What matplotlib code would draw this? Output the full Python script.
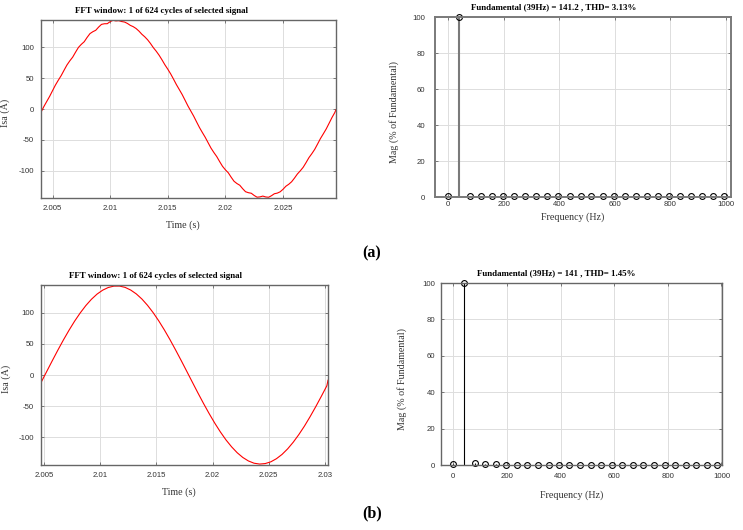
#!/usr/bin/env python3
# -*- coding: utf-8 -*-

import matplotlib
matplotlib.use("Agg")
import matplotlib.pyplot as plt

plt.rcParams["axes.unicode_minus"] = False

# ---- (a) time window (noisy) ----
t_a = [2.0040, 2.00425, 2.0045, 2.00475, 2.0050, 2.00525, 2.0055, 2.00575, 2.0060, 2.00625,
       2.0065, 2.00675, 2.0070, 2.00725, 2.0075, 2.00775, 2.0080, 2.00825, 2.0085, 2.00875,
       2.0090, 2.00925, 2.0095, 2.00975, 2.0100, 2.01025, 2.0105, 2.01075, 2.0110, 2.01125,
       2.0115, 2.01175, 2.0120, 2.01225, 2.0125, 2.01275, 2.0130, 2.01325, 2.0135, 2.01375,
       2.0140, 2.01425, 2.0145, 2.01475, 2.0150, 2.01525, 2.0155, 2.01575, 2.0160, 2.01625,
       2.0165, 2.01675, 2.0170, 2.01725, 2.0175, 2.01775, 2.0180, 2.01825, 2.0185, 2.01875,
       2.0190, 2.01925, 2.0195, 2.01975, 2.0200, 2.02025, 2.0205, 2.02075, 2.0210, 2.02125,
       2.0215, 2.02175, 2.0220, 2.02225, 2.0225, 2.02275, 2.0230, 2.02325, 2.0235, 2.02375,
       2.0240, 2.02425, 2.0245, 2.02475, 2.0250, 2.02525, 2.0255, 2.02575, 2.0260, 2.02625,
       2.0265, 2.02675, 2.0270, 2.02725, 2.0275, 2.02775, 2.0280, 2.02825, 2.0285, 2.02875,
       2.0290, 2.02925, 2.0295, 2.0296]
i_a = [-5.3, 4.0, 12.3, 20.5, 29.7, 38.8, 46.7, 54.2, 62.9, 71.4,
       78.2, 84.2, 92.3, 100.0, 105.0, 109.2, 116.2, 122.4, 125.5, 127.8,
       133.0, 137.4, 138.4, 138.5, 141.8, 144.0, 143.0, 143.4, 142.0, 141.2,
       138.9, 135.8, 133.7, 130.7, 126.5, 121.4, 117.3, 112.4, 106.4, 99.6,
       93.8, 87.3, 79.8, 71.8, 64.7, 57.1, 48.5, 39.6, 31.6, 23.5,
       14.3, 5.0, -3.3, -11.6, -20.9, -30.0, -38.1, -45.9, -54.7, -63.4,
       -70.6, -77.2, -85.3, -93.0, -98.7, -103.5, -110.7, -117.3, -121.0, -123.8,
       -129.4, -134.3, -135.9, -136.8, -140.4, -143.2, -142.7, -141.4, -142.8, -143.3,
       -140.8, -137.6, -136.6, -134.5, -130.4, -125.4, -122.2, -118.1, -112.1, -105.5,
       -100.4, -94.7, -87.1, -79.0, -72.6, -65.6, -56.9, -48.0, -40.3, -32.4,
       -23.2, -13.9, -5.6, -1.0]

# ---- (b) time window (smooth) ----
t_b = [2.0047, 2.0052, 2.0057, 2.0062, 2.0067, 2.0072, 2.0077, 2.0082, 2.0087, 2.0092,
       2.0097, 2.0102, 2.0107, 2.0112, 2.0117, 2.0122, 2.0127, 2.0132, 2.0137, 2.0142,
       2.0147, 2.0152, 2.0157, 2.0162, 2.0167, 2.0172, 2.0177, 2.0182, 2.0187, 2.0192,
       2.0197, 2.0202, 2.0207, 2.0212, 2.0217, 2.0222, 2.0227, 2.0232, 2.0237, 2.0242,
       2.0247, 2.0252, 2.0257, 2.0262, 2.0267, 2.0272, 2.0277, 2.0282, 2.0287, 2.0292,
       2.0297, 2.0302, 2.0303]
i_b = [-12.2, 5.3, 22.7, 39.8, 56.3, 71.9, 86.5, 99.7, 111.5, 121.6,
       129.9, 136.2, 140.5, 142.7, 142.8, 140.7, 136.4, 130.2, 122.0, 111.9,
       100.2, 87.0, 72.5, 56.9, 40.4, 23.4, 6.0, -11.5, -28.9, -45.8,
       -62.0, -77.3, -91.4, -104.2, -115.3, -124.8, -132.4, -138.0, -141.6, -143.0,
       -142.2, -139.4, -134.4, -127.5, -118.6, -107.9, -95.6, -82.0, -67.0, -51.1,
       -34.4, -17.2, -8.4]

# ---- harmonic spectra (% of fundamental) ----
freq_a = [0, 40, 79, 119, 159, 199, 238, 278, 318, 357, 397, 437, 477, 516, 556,
          596, 635, 675, 715, 755, 794, 834, 874, 913, 953, 993]
mag_a = [0.3, 100.0, 0.6, 0.6, 0.6, 0.6, 0.6, 0.6, 0.6, 0.6, 0.6, 0.6, 0.6, 0.6, 0.6,
         0.6, 0.6, 0.6, 0.6, 0.6, 0.6, 0.6, 0.6, 0.6, 0.6, 0.6]
freq_b = [0, 39, 79, 118, 158, 197, 236, 276, 315, 355, 394, 433, 473, 512, 552,
          591, 630, 670, 709, 749, 788, 827, 867, 906, 946, 985]
mag_b = [0.3, 100.0, 0.9, 0.6, 0.6, 0.15, 0.15, 0.15, 0.15, 0.15, 0.15, 0.15, 0.15, 0.15, 0.15,
         0.15, 0.15, 0.15, 0.15, 0.15, 0.15, 0.15, 0.15, 0.15, 0.15, 0.15]

time_ticks_a = [2.005, 2.01, 2.015, 2.02, 2.025]
time_ticks_b = [2.005, 2.01, 2.015, 2.02, 2.025, 2.03]
freq_ticks = [0, 200, 400, 600, 800, 1000]

W, H = 743, 530
TICK_FONT = dict(family="Liberation Sans", size=5.6)
LABEL_FONT = dict(family="Liberation Serif", size=7.2, color="#333333")
TITLE_FONT = dict(family="Liberation Serif", size=6.4, weight="bold")


def px_axes(fig, left, top, right, bottom):
    return fig.add_axes([left / W, 1 - bottom / H, (right - left) / W, (bottom - top) / H])


def style(ax, spine_col="#666666", spine_w=1.0, xpad=4, ypad=4):
    for s in ax.spines.values():
        s.set_color(spine_col)
        s.set_linewidth(spine_w)
    ax.grid(True, color="#dddddd", linewidth=0.7)
    ax.set_axisbelow(True)
    ax.tick_params(direction="in", top=True, right=True, length=2.5, width=0.6,
                   color="#666666", labelcolor="#333333", labelsize=TICK_FONT["size"])
    ax.tick_params(axis="x", pad=xpad)
    ax.tick_params(axis="y", pad=ypad)
    for lab in ax.get_xticklabels() + ax.get_yticklabels():
        lab.set_family(TICK_FONT["family"])


def wave_panel(ax, t, i, ticks, xlim, title, tx, ty, ylab_x, xlab_y):
    ax.plot(t, i, color="red", linewidth=0.8)
    ax.set_xlim(*xlim)
    ax.set_ylim(-144.5, 144.5)
    ax.set_xticks(ticks)
    ax.set_xticklabels([f"{v:g}" for v in ticks])
    ax.set_yticks([-100, -50, 0, 50, 100])
    style(ax, xpad=5, ypad=5)
    ax.set_xlabel("Time (s)", **LABEL_FONT)
    ax.set_ylabel("Isa (A)", **LABEL_FONT)
    ax.yaxis.set_label_coords(ylab_x, 0.48)
    ax.xaxis.set_label_coords(0.48, xlab_y)
    ax.text(tx, ty, title, transform=ax.transAxes, ha="center", va="center", **TITLE_FONT)


def fft_panel(ax, f, m, xlim, title, tx, ty, stem_col, stem_w, spine_col, spine_w,
              ylab_x, xlab_y, xpad, ypad):
    markers, stems, base = ax.stem(f, m, basefmt=" ")
    stems.set_color(stem_col)
    stems.set_linewidth(stem_w)
    markers.set_markerfacecolor("none")
    markers.set_markeredgecolor("black")
    markers.set_markersize(4.2)
    markers.set_markeredgewidth(0.8)
    markers.set_clip_on(False)
    ax.set_xlim(*xlim)
    ax.set_ylim(0, 100)
    ax.set_xticks(freq_ticks)
    ax.set_yticks([0, 20, 40, 60, 80, 100])
    style(ax, spine_col=spine_col, spine_w=spine_w, xpad=xpad, ypad=ypad)
    ax.set_xlabel("Frequency (Hz)", **LABEL_FONT)
    ax.set_ylabel("Mag (% of Fundamental)", **LABEL_FONT)
    ax.yaxis.set_label_coords(ylab_x, 0.47)
    ax.xaxis.set_label_coords(0.465, xlab_y)
    ax.text(tx, ty, title, transform=ax.transAxes, ha="center", va="center", **TITLE_FONT)


fig = plt.figure(figsize=(W / 100, H / 100), dpi=100)

ax1 = px_axes(fig, 41, 20, 336, 198)
wave_panel(ax1, t_a, i_a, time_ticks_a, (2.0040, 2.0296),
           "FFT window: 1 of 624 cycles of selected signal", 0.407, 1.052, -0.105, -0.125)

ax2 = px_axes(fig, 435, 17, 731, 197)
fft_panel(ax2, freq_a, mag_a, (-47, 1018),
          "Fundamental (39Hz) = 141.2 , THD= 3.13%", 0.402, 1.054,
          "#7a7a7a", 1.5, "#7a7a7a", 1.4, -0.122, -0.085, 3, 7)

ax3 = px_axes(fig, 41, 285, 328, 465)
wave_panel(ax3, t_b, i_b, time_ticks_b, (2.0047, 2.0303),
           "FFT window: 1 of 624 cycles of selected signal", 0.40, 1.05, -0.103, -0.125)

ax4 = px_axes(fig, 441, 283, 722, 465)
fft_panel(ax4, freq_b, mag_b, (-46, 1002),
          "Fundamental (39Hz) = 141 , THD= 1.45%", 0.409, 1.053,
          "black", 0.8, "#666666", 1.0, -0.122, -0.137, 6, 4)

fig.text(372 / W, 1 - 253 / H, "(a)", ha="center", va="center",
         family="Liberation Serif", weight="bold", size=11.5)
fig.text(372 / W, 1 - 513 / H, "(b)", ha="center", va="center",
         family="Liberation Serif", weight="bold", size=11.5)

fig.savefig("out.png", dpi=100)
